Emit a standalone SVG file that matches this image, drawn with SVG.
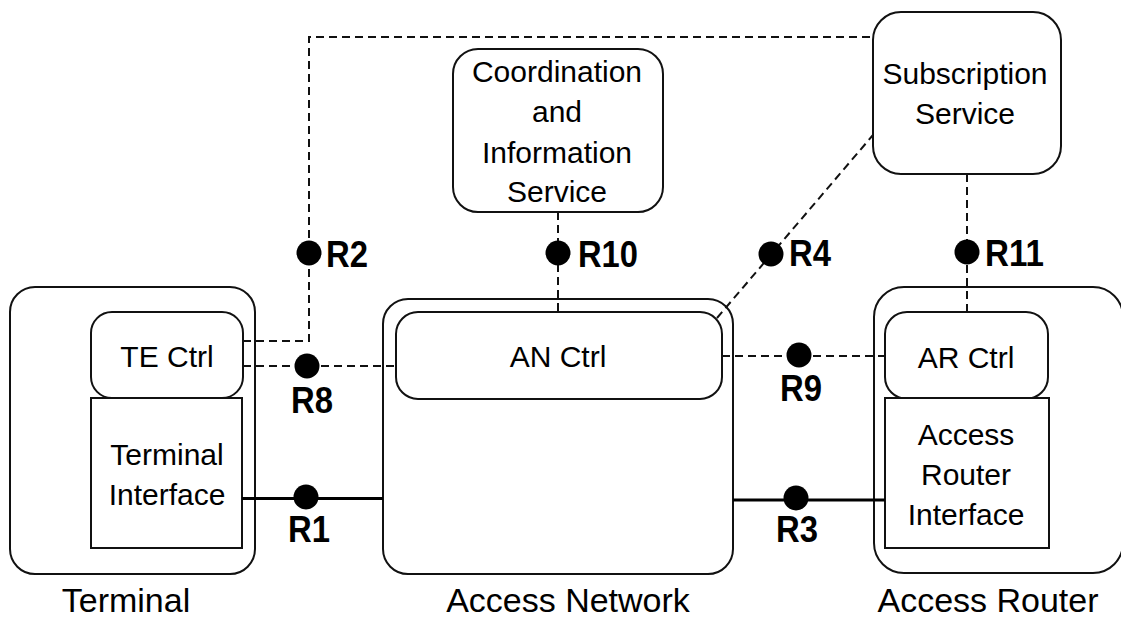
<svg xmlns="http://www.w3.org/2000/svg" width="1121" height="620" viewBox="0 0 1121 620">
  <style>
    .box { fill: #ffffff; stroke: #111111; stroke-width: 2; }
    .frame { fill: none; stroke: #111111; stroke-width: 2; }
    .lbl { font-family: "Liberation Sans", Arial, sans-serif; font-size: 30px; fill: #000000; text-anchor: middle; }
    .title { font-family: "Liberation Sans", Arial, sans-serif; font-size: 34px; fill: #000000; text-anchor: middle; }
    .ref { font-family: "Liberation Sans", Arial, sans-serif; font-size: 36px; font-weight: bold; fill: #000000; }
    .dash { fill: none; stroke: #111111; stroke-width: 2; stroke-dasharray: 8 5; }
    .solid { fill: none; stroke: #000000; stroke-width: 3; }
    .dot { fill: #000000; }
  </style>
  <rect width="1121" height="620" fill="#ffffff"/>

  <!-- Terminal -->
  <g id="terminal">
    <rect class="frame" x="10" y="287" width="245" height="287" rx="25" ry="25"/>
    <text class="title" x="126" y="612">Terminal</text>
  </g>
  <g id="te-ctrl">
    <rect class="box" x="91" y="312" width="152" height="86" rx="21" ry="21"/>
    <text class="lbl" x="167" y="367">TE Ctrl</text>
  </g>
  <g id="terminal-interface">
    <rect class="box" x="91" y="398" width="151" height="150"/>
    <text class="lbl" x="167" y="465">Terminal</text>
    <text class="lbl" x="167" y="505">Interface</text>
  </g>

  <!-- Access Network -->
  <g id="access-network">
    <rect class="frame" x="383" y="299" width="350" height="275" rx="25" ry="25"/>
    <text class="title" x="568" y="612">Access Network</text>
  </g>
  <g id="an-ctrl">
    <rect class="box" x="396" y="312" width="326" height="87" rx="22" ry="22"/>
    <text class="lbl" x="558" y="367">AN Ctrl</text>
  </g>

  <!-- Access Router -->
  <g id="access-router">
    <rect class="frame" x="874" y="287" width="249" height="286" rx="30" ry="30"/>
    <text class="title" x="988" y="612">Access Router</text>
  </g>
  <g id="ar-ctrl">
    <rect class="box" x="885" y="312" width="163" height="87" rx="22" ry="22"/>
    <text class="lbl" x="966" y="368">AR Ctrl</text>
  </g>
  <g id="ar-interface">
    <rect class="box" x="885" y="398" width="164" height="150"/>
    <text class="lbl" x="966" y="445">Access</text>
    <text class="lbl" x="966" y="485">Router</text>
    <text class="lbl" x="966" y="525">Interface</text>
  </g>

  <!-- Services -->
  <g id="coordination-service">
    <rect class="box" x="453" y="49" width="210" height="163" rx="25" ry="25"/>
    <text class="lbl" x="557" y="82">Coordination</text>
    <text class="lbl" x="557" y="122">and</text>
    <text class="lbl" x="557" y="163">Information</text>
    <text class="lbl" x="557" y="202">Service</text>
  </g>
  <g id="subscription-service">
    <rect class="box" x="873" y="12" width="188" height="162" rx="28" ry="28"/>
    <text class="lbl" x="965" y="84">Subscription</text>
    <text class="lbl" x="965" y="124">Service</text>
  </g>

  <!-- Reference points -->
  <g id="connectors">
    <!-- R2: TE Ctrl to Subscription Service -->
    <path class="dash" d="M243 341 H309 V37 H873"/>
    <circle class="dot" cx="309" cy="253" r="12.5"/>
    <text class="ref" x="326" y="267" textLength="42" lengthAdjust="spacingAndGlyphs">R2</text>

    <!-- R8: TE Ctrl to AN Ctrl -->
    <path class="dash" d="M243 366 H396"/>
    <circle class="dot" cx="307" cy="366" r="12.5"/>
    <text class="ref" x="291" y="413" textLength="42" lengthAdjust="spacingAndGlyphs">R8</text>

    <!-- R1: Terminal Interface to Access Network -->
    <path class="solid" d="M242 498.5 H383"/>
    <circle class="dot" cx="306" cy="497" r="12.5"/>
    <text class="ref" x="288" y="542" textLength="42" lengthAdjust="spacingAndGlyphs">R1</text>

    <!-- R10: Coordination and Information Service to AN Ctrl -->
    <path class="dash" d="M558 212 V312"/>
    <circle class="dot" cx="558" cy="253" r="12.5"/>
    <text class="ref" x="578" y="267" textLength="60" lengthAdjust="spacingAndGlyphs">R10</text>

    <!-- R4: AN Ctrl to Subscription Service -->
    <path class="dash" d="M717 318 L873 135"/>
    <circle class="dot" cx="771" cy="254" r="12.5"/>
    <text class="ref" x="789" y="266" textLength="42" lengthAdjust="spacingAndGlyphs">R4</text>

    <!-- R9: AN Ctrl to AR Ctrl -->
    <path class="dash" d="M722 356 H885"/>
    <circle class="dot" cx="799" cy="355" r="12.5"/>
    <text class="ref" x="780" y="401" textLength="42" lengthAdjust="spacingAndGlyphs">R9</text>

    <!-- R3: Access Network to Access Router Interface -->
    <path class="solid" d="M733 500 H885"/>
    <circle class="dot" cx="796" cy="498" r="12.5"/>
    <text class="ref" x="776" y="542" textLength="42" lengthAdjust="spacingAndGlyphs">R3</text>

    <!-- R11: Subscription Service to AR Ctrl -->
    <path class="dash" d="M967 174 V312"/>
    <circle class="dot" cx="967" cy="252" r="12.5"/>
    <text class="ref" x="985" y="266" textLength="59" lengthAdjust="spacingAndGlyphs">R11</text>
  </g>
</svg>
